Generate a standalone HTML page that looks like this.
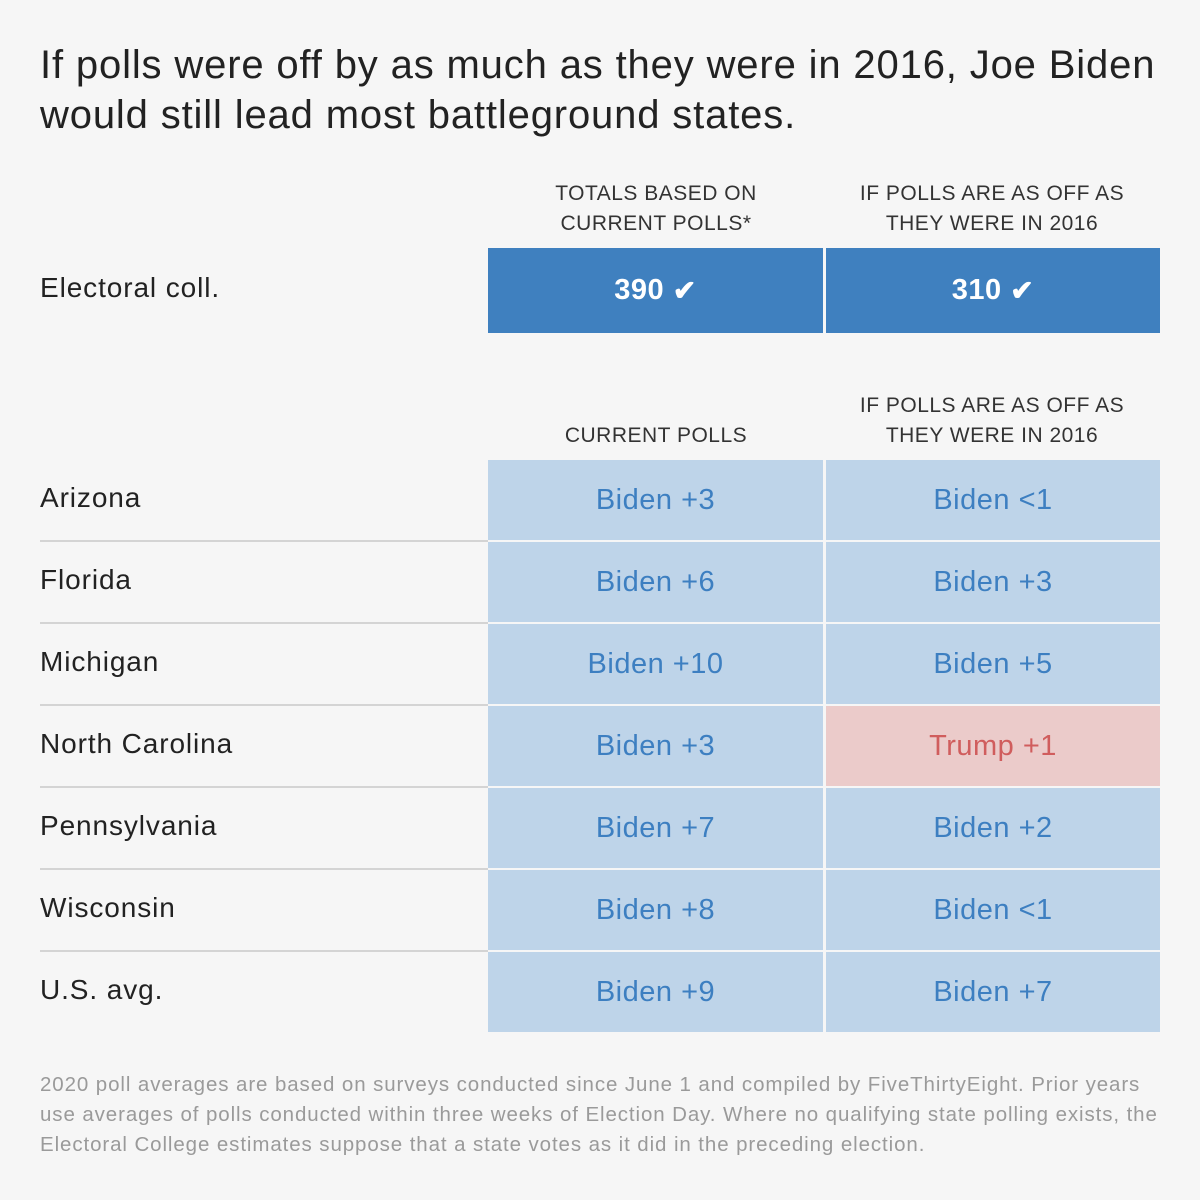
<!DOCTYPE html>
<html><head><meta charset="utf-8"><style>
body{margin:0;background:#f6f6f6;font-family:"Liberation Sans",sans-serif;}
#wrap{position:relative;width:1200px;height:1200px;background:#f6f6f6;overflow:hidden;}
.abs{position:absolute;}
.title{left:40px;top:40px;font-size:40px;line-height:50px;color:#222;letter-spacing:0.85px;white-space:nowrap;}
.hdr{font-size:21px;line-height:30px;color:#333;text-align:center;width:336px;letter-spacing:0.5px;}
.lbl{left:40px;font-size:28px;color:#222;letter-spacing:0.9px;}
.cell{display:flex;align-items:center;justify-content:center;font-size:29px;letter-spacing:0.5px;}
.sep{left:40px;width:448px;height:2px;background:#d4d4d4;}
.note{left:40px;top:1070px;width:1150px;font-size:20.5px;line-height:30px;color:#9a9a9a;letter-spacing:0.9px;white-space:nowrap;}
</style></head><body>
<div id="wrap">
<div class="abs title">If polls were off by as much as they were in 2016, Joe Biden<br>would still lead most battleground states.</div>
<div class="abs hdr" style="left:488px;top:179px">TOTALS BASED ON<br>CURRENT POLLS*</div>
<div class="abs hdr" style="left:824px;top:179px">IF POLLS ARE AS OFF AS<br>THEY WERE IN 2016</div>
<div class="abs lbl" style="top:272px">Electoral coll.</div>
<div class="abs cell" style="left:488px;top:248px;width:335px;height:85px;background:#3f80bf;color:#fff;font-weight:bold">390&nbsp;<span style="font-size:28px">✔</span></div>
<div class="abs cell" style="left:826px;top:248px;width:334px;height:85px;background:#3f80bf;color:#fff;font-weight:bold">310&nbsp;<span style="font-size:28px">✔</span></div>
<div class="abs hdr" style="left:488px;top:421px">CURRENT POLLS</div>
<div class="abs hdr" style="left:824px;top:391px">IF POLLS ARE AS OFF AS<br>THEY WERE IN 2016</div>
<div id="rows"></div>
<div class="abs note">2020 poll averages are based on surveys conducted since June 1 and compiled by FiveThirtyEight. Prior years<br>use averages of polls conducted within three weeks of Election Day. Where no qualifying state polling exists, the<br>Electoral College estimates suppose that a state votes as it did in the preceding election.</div>
</div>
<script>
const states=["Arizona","Florida","Michigan","North Carolina","Pennsylvania","Wisconsin","U.S. avg."];
const current=["Biden +3","Biden +6","Biden +10","Biden +3","Biden +7","Biden +8","Biden +9"];
const off=["Biden <1","Biden +3","Biden +5","Trump +1","Biden +2","Biden <1","Biden +7"];
const wrap=document.getElementById('wrap');
states.forEach((s,i)=>{
  const y=460+i*82;
  const l=document.createElement('div');
  l.className='abs lbl';l.style.top=(y+22)+'px';l.textContent=s;
  
  
  wrap.appendChild(l);
  if(i>0){const sp=document.createElement('div');sp.className='abs sep';sp.style.top=(y-2)+'px';
    
    
    wrap.appendChild(sp);}
  [[current[i],488,335],[off[i],826,334]].forEach(([t,x,w],j)=>{
    const c=document.createElement('div');c.className='abs cell';
    const tr=t.startsWith('Trump');
    c.style.cssText+=`left:${x}px;top:${y}px;width:${w}px;height:80px;background:${tr?'#ebcbca':'#bed4e9'};color:${tr?'#d05d5d':'#3d7fc1'}`;
    c.textContent=t;
    
    
    wrap.appendChild(c);
  });
});
</script>
</body></html>
